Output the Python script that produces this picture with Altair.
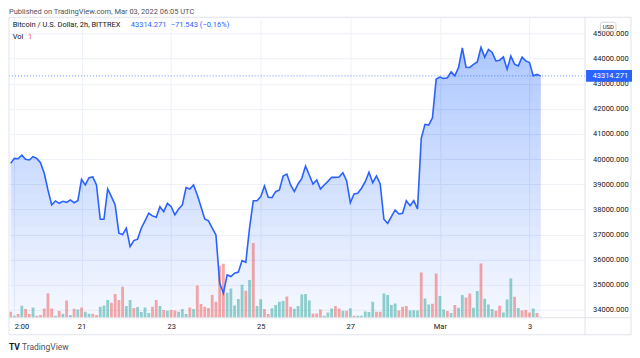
import altair as alt
import pandas as pd

# ---------------- data ----------------
FIRST_BAR = "2022-02-19 10:00"          # first 2h bar, UTC
BAR_FREQ = "2h"

prices = [
    39830, 40030, 40015, 40160, 39990, 39965, 40095, 40030, 39855, 39435,
    38770, 38175, 38335, 38240, 38320, 38280, 38375, 38265, 38345, 39195,
    38970, 39260, 39290, 38970, 37605, 37605, 38810, 38505, 38175, 37050,
    36995, 37250, 36515, 36755, 36810, 37250, 37540, 37845, 37740, 37685,
    38105, 37910, 38240, 38105, 37780, 38015, 38175, 38865, 38810, 38970,
    38570, 38105, 37620, 37540, 37250, 36980, 35060, 34665, 35390, 35325,
    35460, 35500, 35960, 35895, 37250, 38345, 38345, 38505, 38930, 38480,
    38465, 38705, 38770, 39330, 39405, 38970, 38705, 39010, 39235, 39725,
    39365, 39010, 39170, 38810, 38970, 39115, 39275, 39275, 39290, 39460,
    39140, 38265, 38610, 38640, 38840, 39100, 39475, 39060, 39330, 39010,
    37605, 37445, 37710, 37975, 37815, 37845, 38345, 38145, 38345, 38015,
    40825, 41385, 41355, 41645, 43185, 43265, 43210, 43235, 43475, 43315,
    43650, 44430, 43660, 43650, 43770, 43870, 44445, 44060, 44365, 44245,
    43910, 43940, 44070, 43580, 44100, 43780, 43710, 44060, 43910, 43845,
    43315, 43370, 43314.271,
]

volumes = [
    6, 2, 3.7, 12, 8.7, 3.7, 10.3, 2, 2.7, 9.3,
    24.3, 9.3, 2, 6.7, 4, 17.3, 2.7, 9, 8.3, 10.3,
    6, 4, 4, 2.7, 11, 12.3, 17.7, 15, 23.7, 17.7,
    31, 11.7, 17.7, 9.7, 10.7, 5.7, 10.3, 4.7, 11, 17.7,
    11.7, 7.7, 7, 7.7, 7.3, 6, 8.7, 3.7, 10.3, 8.7,
    32.3, 13.7, 11, 9.7, 22.7, 16, 52, 54, 25, 29.3,
    12.3, 18.7, 33, 27, 37.7, 74.7, 11.7, 18.5, 8.8, 3.7,
    9.5, 12.7, 16, 16.7, 21.3, 11, 9, 11.7, 23.3, 23.7,
    17.3, 4.3, 4.3, 8.3, 2, 5.3, 9.3, 11.7, 9.3, 7,
    7, 9.5, 2, 2, 2, 6.3, 5.7, 16, 6, 6,
    24.3, 22.7, 12.7, 14.3, 7.3, 11, 11.7, 7.3, 7.5, 7.2,
    45.3, 19.3, 13.3, 14, 44.3, 21.7, 8.3, 6.7, 4.7, 12.7,
    10, 22.7, 20.3, 24.3, 10, 26.7, 54.3, 19, 13.3, 8.7,
    7, 12, 5.3, 18.3, 39.3, 21, 9.7, 7.3, 7.7, 5.3,
    9.3, 4.7, 1,
]

# candle direction of each bar: u = up (teal), d = down (red)
directions = list(
    "dududdudddddududududuudduuudddduuduuu"
    "uddududduuudud"
    "ddddddduuuuududuudduuuudd"
    "uuuuuddduuuddudud"
    "uuuuudduuuuddduuuduudd"
    "uududuudduuduuudduuududddudduddddddud"
)

x_tick_times = ["2022-02-19 12:00", "2022-02-21", "2022-02-23", "2022-02-25",
                "2022-02-27", "2022-03-01", "2022-03-03"]
x_tick_labels = ["2:00", "21", "23", "25", "27", "Mar", "3"]
x_domain_times = ["2022-02-19 11:48", "2022-03-04 03:06"]

y_ticks = [34000, 35000, 36000, 37000, 38000, 39000, 40000,
           41000, 42000, 43000, 44000, 45000]
y_domain = [33683, 45648]
vol_domain = [0, 300]

published = "Published on TradingView.com, Mar 03, 2022 06:05 UTC"
symbol_text = "Bitcoin / U.S. Dollar, 2h, BITTREX"
last_text = "43314.271"
change_text = "\u221271.543 (\u22120.16%)"
vol_label = "Vol"
vol_value = "1"

# ---------------- build ----------------
n = len(prices)
times = pd.date_range(FIRST_BAR, periods=n, freq=BAR_FREQ, tz="UTC")
t_ms = (times.asi8 // 10**6).tolist()
df = pd.DataFrame({
    "t": t_ms,
    "price": prices,
    "vol": volumes[:n],
    "dir": directions[:n],
})

# fading fill under the line: translucent bands stacked from the bottom up
fade_levels = list(range(y_domain[0], 44600, 450))
bands = []
for lv in fade_levels:
    bands.append(pd.DataFrame({
        "t": t_ms,
        "top": [max(p, lv) for p in prices],
        "lvl": lv,
    }))
bands = pd.concat(bands, ignore_index=True)


def to_ms(s):
    return int(pd.Timestamp(s, tz="UTC").value // 10**6)


tick_ms = [to_ms(s) for s in x_tick_times]
dom_ms = [to_ms(s) for s in x_domain_times]

expr = "''"
for v, lab in reversed(list(zip(tick_ms, x_tick_labels))):
    expr = f"(datum.value == {v} ? '{lab}' : {expr})"

FONT = "Roboto"
TXT = "#131722"
GRID = "#eef1f8"
BORDER = "#e0e3eb"
BLUE = "#2962ff"
W, H = 577, 301

xenc = alt.X(
    "t:Q",
    scale=alt.Scale(domain=dom_ms, nice=False, zero=False),
    axis=alt.Axis(values=tick_ms, labelExpr=expr, title=None, grid=True,
                  gridColor=GRID, domain=False, ticks=False, labelFont=FONT,
                  labelFontSize=7.5, labelColor=TXT, labelPadding=5,
                  labelFlush=6, labelOverlap=False, zindex=0),
)
yscale = alt.Scale(domain=y_domain, nice=False, zero=False)
yaxis = alt.Axis(orient="right", values=y_ticks, format=".3f", title=None,
                 grid=True, gridColor=GRID, domain=False, ticks=False,
                 labelFont=FONT, labelFontSize=7.5, labelColor=TXT,
                 labelPadding=7.5, labelOverlap=False, zindex=0)
yq = alt.Y("price:Q", scale=yscale, axis=None)

base_area = alt.Chart(df).mark_area(color=BLUE, opacity=0.035, clip=True).encode(
    x=xenc, y=alt.Y("price:Q", scale=yscale, axis=yaxis))

fade = alt.Chart(bands).mark_area(color=BLUE, opacity=0.0105, clip=True).encode(
    x=xenc, y=alt.Y("top:Q", scale=yscale, axis=None), y2="lvl:Q",
    detail="lvl:N")

vol = alt.Chart(df).mark_bar(size=2.8, opacity=0.5, clip=True).encode(
    x=xenc,
    y=alt.Y("vol:Q", scale=alt.Scale(domain=vol_domain, nice=False), axis=None),
    color=alt.Color("dir:N", scale=alt.Scale(domain=["u", "d"],
                    range=["#26a69a", "#ef5350"]), legend=None),
)

line = alt.Chart(df).mark_line(color=BLUE, strokeWidth=1.6, clip=True).encode(
    x=xenc, y=yq)

last_df = pd.DataFrame({"price": [prices[-1]], "s": [last_text]})
last_rule = alt.Chart(last_df).mark_rule(color=BLUE, strokeDash=[1, 2],
                                          opacity=0.7).encode(y=yq)
last_box = alt.Chart(last_df).mark_rect(color=BLUE, yOffset=-6, y2Offset=6).encode(
    y=yq, y2="price:Q", x=alt.value(W + 1), x2=alt.value(W + 47))
last_lbl = alt.Chart(last_df).mark_text(align="left", baseline="middle", font=FONT,
                                        fontSize=7.5, color="white").encode(
    y=yq, x=alt.value(W + 7.5), text="s:N")


def txt(s, x, y, color=TXT, size=7.5, weight="normal", align="left"):
    return alt.Chart(pd.DataFrame({"s": [s]})).mark_text(
        align=align, baseline="middle", font=FONT, fontSize=size, color=color,
        fontWeight=weight).encode(x=alt.value(x), y=alt.value(y), text="s:N")


one = pd.DataFrame({"a": [0]})
frame = alt.Chart(one).mark_rect(filled=False, stroke=BORDER, strokeWidth=1).encode(
    x=alt.value(0), x2=alt.value(623), y=alt.value(0), y2=alt.value(318))
sep_v = alt.Chart(one).mark_rule(color=BORDER).encode(
    x=alt.value(W), y=alt.value(0), y2=alt.value(318))
sep_h = alt.Chart(one).mark_rule(color=BORDER).encode(
    x=alt.value(0), x2=alt.value(623), y=alt.value(H))
usd_box = alt.Chart(one).mark_rect(
    fill="white", stroke="#b2b5be", strokeWidth=0.6, cornerRadius=2).encode(
    x=alt.value(W + 15.5), x2=alt.value(W + 31), y=alt.value(5), y2=alt.value(14))

chart = alt.layer(
    base_area, fade, vol, line, last_rule, frame, sep_v, sep_h, last_box,
    last_lbl, usd_box,
    txt("USD", W + 23.3, 9.6, size=6, align="center"),
    txt(published, 0, -5, color="#50535e"),
    txt(symbol_text, 3.7, 8),
    txt(last_text, 122, 8, color=BLUE),
    txt(change_text, 162, 8, color=BLUE),
    txt(vol_label, 3.7, 20),
    txt(vol_value, 19, 20, color="#ef5350"),
    txt("TV", 0, 330, size=8.5, weight="bold"),
    txt("TradingView", 13, 330, size=8.5, color="#50535e"),
).resolve_scale(y="independent", x="shared").properties(
    width=W, height=H, padding=0, background="white"
).configure_view(stroke=None)

chart.save("out.html", embed_options={"renderer": "svg", "actions": False})
